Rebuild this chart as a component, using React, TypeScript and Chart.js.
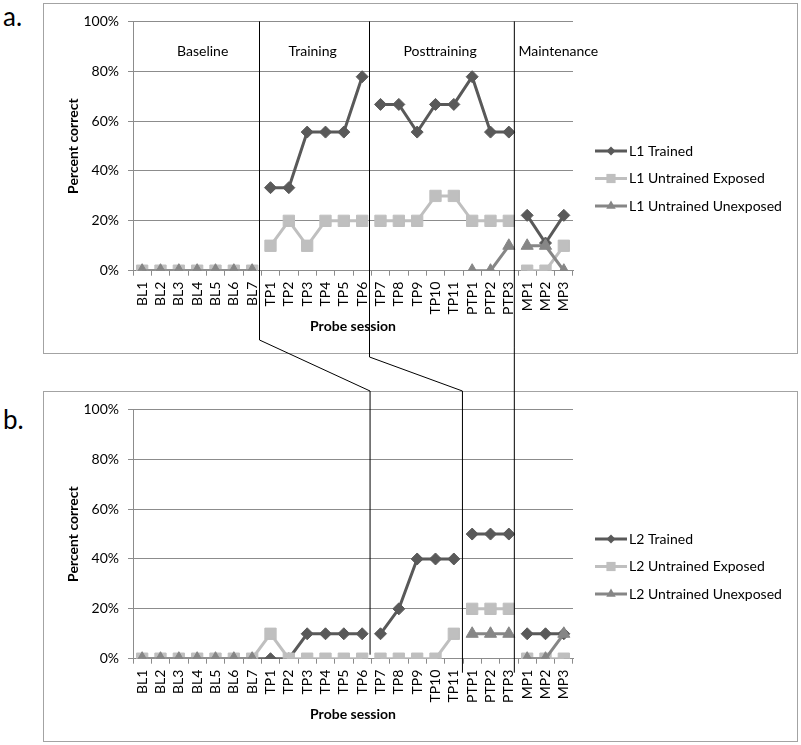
import React, { useEffect, useRef } from 'react';
import { Chart, registerables } from 'chart.js';

Chart.register(...registerables);

const FONT = "Lato, 'Open Sans', 'DejaVu Sans', sans-serif";

// ---- data ----
const sessions = [
  'BL1', 'BL2', 'BL3', 'BL4', 'BL5', 'BL6', 'BL7',
  'TP1', 'TP2', 'TP3', 'TP4', 'TP5', 'TP6', 'TP7', 'TP8', 'TP9', 'TP10', 'TP11',
  'PTP1', 'PTP2', 'PTP3',
  'MP1', 'MP2', 'MP3',
];

const l1Labels = ['L1 Trained', 'L1 Untrained Exposed', 'L1 Untrained Unexposed'];
const l1Trained = [0, 0, 0, 0, 0, 0, 0, 33.3, 33.3, 55.6, 55.6, 55.6, 77.8, 66.7, 66.7, 55.6, 66.7, 66.7, 77.8, 55.6, 55.6, 22.2, 11.1, 22.2];
const l1Exposed = [0, 0, 0, 0, 0, 0, 0, 10, 20, 10, 20, 20, 20, 20, 20, 20, 30, 30, 20, 20, 20, 0, 0, 10];
const l1Unexposed = [0, 0, 0, 0, 0, 0, 0, null, null, null, null, null, null, null, null, null, null, null, 0, 0, 10, 10, 10, 0];

const l2Labels = ['L2 Trained', 'L2 Untrained Exposed', 'L2 Untrained Unexposed'];
const l2Trained = [0, 0, 0, 0, 0, 0, 0, 0, 0, 10, 10, 10, 10, 10, 20, 40, 40, 40, 50, 50, 50, 10, 10, 10];
const l2Exposed = [0, 0, 0, 0, 0, 0, 0, 10, 0, 0, 0, 0, 0, 0, 0, 0, 0, 10, 20, 20, 20, 0, 0, 0];
const l2Unexposed = [0, 0, 0, 0, 0, 0, 0, null, null, null, null, null, null, null, null, null, null, null, 10, 10, 10, 0, 0, 10];

// index at which a new (unconnected) line segment starts
const breaksA = [7, 13, 21];
const breaksB = [13, 18, 21];

const yTickValues = [0, 20, 40, 60, 80, 100];

const phaseNames = ['Baseline', 'Training', 'Posttraining', 'Maintenance'];
const phaseLabelAt = [3.3, 9.3, 16.25, 22.7];

// hand-drawn phase separator lines (category units)
const phaseLinesA = [6.4, 12.4, 20.3];
const phaseLinesB = [12.43, 17.47, 20.3];

// ---- styles ----
const seriesColors = ['#595959', '#bfbfbf', '#868686'];
const seriesPointStyles = ['rectRot', 'rect', 'triangle'];
const seriesRadius = [6, 8, 7];
const seriesOrder = [2, 1, 0];

function drawMarker(ctx: CanvasRenderingContext2D, style: string, x: number, y: number, r: number, color: string) {
  ctx.save();
  ctx.fillStyle = color;
  ctx.beginPath();
  if (style === 'rectRot') {
    ctx.moveTo(x - r, y);
    ctx.lineTo(x, y - r);
    ctx.lineTo(x + r, y);
    ctx.lineTo(x, y + r);
  } else if (style === 'rect') {
    const s = r * Math.SQRT1_2;
    ctx.rect(x - s, y - s, 2 * s, 2 * s);
  } else {
    const a = (2 * Math.PI) / 3;
    ctx.moveTo(x, y - r);
    ctx.lineTo(x + Math.sin(a) * r, y - Math.cos(a) * r);
    ctx.lineTo(x + Math.sin(2 * a) * r, y - Math.cos(2 * a) * r);
  }
  ctx.closePath();
  ctx.fill();
  ctx.restore();
}

function makeConfig(labels: string[], series: (number | null)[][], breaks: number[], showPhases: boolean): any {
  const datasets = series.map((vals, i) => ({
    label: labels[i],
    data: vals,
    borderColor: seriesColors[i],
    backgroundColor: seriesColors[i],
    pointBackgroundColor: seriesColors[i],
    pointBorderColor: seriesColors[i],
    borderWidth: 3,
    pointStyle: seriesPointStyles[i],
    pointRadius: seriesRadius[i],
    pointBorderWidth: 1,
    tension: 0,
    order: seriesOrder[i],
    spanGaps: false,
    segment: {
      borderColor: (ctx: any) => (breaks.includes(ctx.p1DataIndex) ? 'rgba(0,0,0,0)' : undefined),
    },
  }));

  const legendPlugin = {
    id: 'customLegend',
    afterDraw(chart: any) {
      const ctx = chart.ctx as CanvasRenderingContext2D;
      const x0 = chart.chartArea.right + 22;
      const cy = chart.height / 2;
      const gap = 27.5;
      const n = chart.data.datasets.length;
      const legendR = [4.5, 6.5, 5.5];
      chart.data.datasets.forEach((ds: any, i: number) => {
        const y = cy + (i - (n - 1) / 2) * gap;
        ctx.save();
        ctx.strokeStyle = ds.borderColor;
        ctx.lineWidth = 3;
        ctx.beginPath();
        ctx.moveTo(x0, y);
        ctx.lineTo(x0 + 32, y);
        ctx.stroke();
        drawMarker(ctx, ds.pointStyle, x0 + 16, y, legendR[i], ds.borderColor);
        ctx.fillStyle = '#000';
        ctx.font = `14px ${FONT}`;
        ctx.textBaseline = 'middle';
        ctx.textAlign = 'left';
        ctx.fillText(ds.label, x0 + 34, y);
        ctx.restore();
      });
    },
  };

  const phasePlugin = {
    id: 'phaseLabels',
    afterDraw(chart: any) {
      if (!showPhases) return;
      const ctx = chart.ctx as CanvasRenderingContext2D;
      const xs = chart.scales.x;
      ctx.save();
      ctx.fillStyle = '#000';
      ctx.font = `14px ${FONT}`;
      ctx.textAlign = 'center';
      ctx.textBaseline = 'middle';
      phaseNames.forEach((name, i) => {
        ctx.fillText(name, xs.getPixelForValue(phaseLabelAt[i]), chart.chartArea.top + 30);
      });
      ctx.restore();
    },
  };

  return {
    type: 'line',
    data: { labels: sessions, datasets },
    options: {
      animation: false,
      responsive: false,
      devicePixelRatio: 1,
      layout: { padding: { left: 17, right: 224, top: 16, bottom: 0 } },
      plugins: {
        legend: { display: false },
        tooltip: { enabled: false },
      },
      scales: {
        x: {
          offset: true,
          grid: { offset: true, drawOnChartArea: false, drawTicks: true, tickLength: 5, color: '#8c8c8c' },
          border: { color: '#8c8c8c', width: 1 },
          ticks: {
            autoSkip: false,
            minRotation: 90,
            maxRotation: 90,
            padding: 6,
            color: '#000',
            font: { family: FONT, size: 14 },
          },
          title: {
            display: true,
            text: 'Probe session',
            color: '#000',
            font: { family: FONT, size: 14, weight: 'bold' },
            padding: { top: 0, bottom: 18.6 },
          },
          afterFit: (s: any) => { s.height = 82.3; },
        },
        y: {
          min: 0,
          max: 100,
          afterBuildTicks: (s: any) => { s.ticks = yTickValues.map((v) => ({ value: v })); },
          ticks: {
            padding: 9,
            color: '#000',
            font: { family: FONT, size: 14 },
            callback: (v: any) => `${v}%`,
          },
          grid: { color: '#8c8c8c', tickLength: 5, lineWidth: 1 },
          border: { color: '#8c8c8c', width: 1 },
          title: {
            display: true,
            text: 'Percent correct',
            color: '#000',
            font: { family: FONT, size: 14, weight: 'bold' },
            padding: { top: 4, bottom: 0 },
          },
          afterFit: (s: any) => { s.width = 72; },
        },
      },
    },
    plugins: [legendPlugin, phasePlugin],
  };
}

const boxStyle: React.CSSProperties = {
  position: 'absolute',
  left: 43,
  width: 755,
  height: 351,
  border: '1px solid #a3a3a3',
  boxSizing: 'border-box',
  background: '#fff',
};

const panelLetter: React.CSSProperties = {
  position: 'absolute',
  left: 3,
  fontFamily: FONT,
  fontSize: 26,
  lineHeight: '31px',
  color: '#000',
};

export default function App() {
  const rootRef = useRef<HTMLDivElement>(null);
  const refA = useRef<HTMLCanvasElement>(null);
  const refB = useRef<HTMLCanvasElement>(null);
  const refO = useRef<HTMLCanvasElement>(null);

  useEffect(() => {
    const chartA = new Chart(refA.current!, makeConfig(l1Labels, [l1Trained, l1Exposed, l1Unexposed], breaksA, true));
    const chartB = new Chart(refB.current!, makeConfig(l2Labels, [l2Trained, l2Exposed, l2Unexposed], breaksB, false));

    const root = rootRef.current!.getBoundingClientRect();
    const ra = refA.current!.getBoundingClientRect();
    const rb = refB.current!.getBoundingClientRect();
    const oxA = ra.left - root.left, oyA = ra.top - root.top;
    const oxB = rb.left - root.left, oyB = rb.top - root.top;
    const ax = (v: number) => chartA.scales.x.getPixelForValue(v) + oxA;
    const bx = (v: number) => chartB.scales.x.getPixelForValue(v) + oxB;
    const topA = chartA.chartArea.top + oyA;
    const boxABottom = oyA + ra.height;
    const boxBTop = oyB - 1;
    const bottomB = chartB.chartArea.bottom + oyB;

    const ctx = refO.current!.getContext('2d')!;
    ctx.clearRect(0, 0, 801, 745);
    ctx.strokeStyle = '#000';
    ctx.lineWidth = 1;
    const bends = [boxABottom - 13, boxABottom + 4, null];
    const ends = [bottomB - 4, bottomB + 14, bottomB + 14];
    phaseLinesA.forEach((va, i) => {
      const x1 = ax(va);
      const x2 = bx(phaseLinesB[i]);
      ctx.beginPath();
      ctx.moveTo(x1, topA);
      const bend = bends[i];
      if (bend !== null) {
        ctx.lineTo(x1, bend);
        ctx.lineTo(x2, boxBTop);
      }
      ctx.lineTo(x2, ends[i]);
      ctx.stroke();
    });

    return () => {
      chartA.destroy();
      chartB.destroy();
    };
  }, []);

  return (
    <div ref={rootRef} style={{ position: 'absolute', left: 0, top: 0, width: 801, height: 745, background: '#fff' }}>
      <div style={{ ...panelLetter, top: 1 }}>a.</div>
      <div style={{ ...boxStyle, top: 3 }}>
        <canvas ref={refA} width={753} height={349} style={{ display: 'block', width: 753, height: 349 }} />
      </div>
      <div style={{ ...panelLetter, top: 404 }}>b.</div>
      <div style={{ ...boxStyle, top: 391 }}>
        <canvas ref={refB} width={753} height={349} style={{ display: 'block', width: 753, height: 349 }} />
      </div>
      <canvas
        ref={refO}
        width={801}
        height={745}
        style={{ position: 'absolute', left: 0, top: 0, width: 801, height: 745, pointerEvents: 'none' }}
      />
    </div>
  );
}
